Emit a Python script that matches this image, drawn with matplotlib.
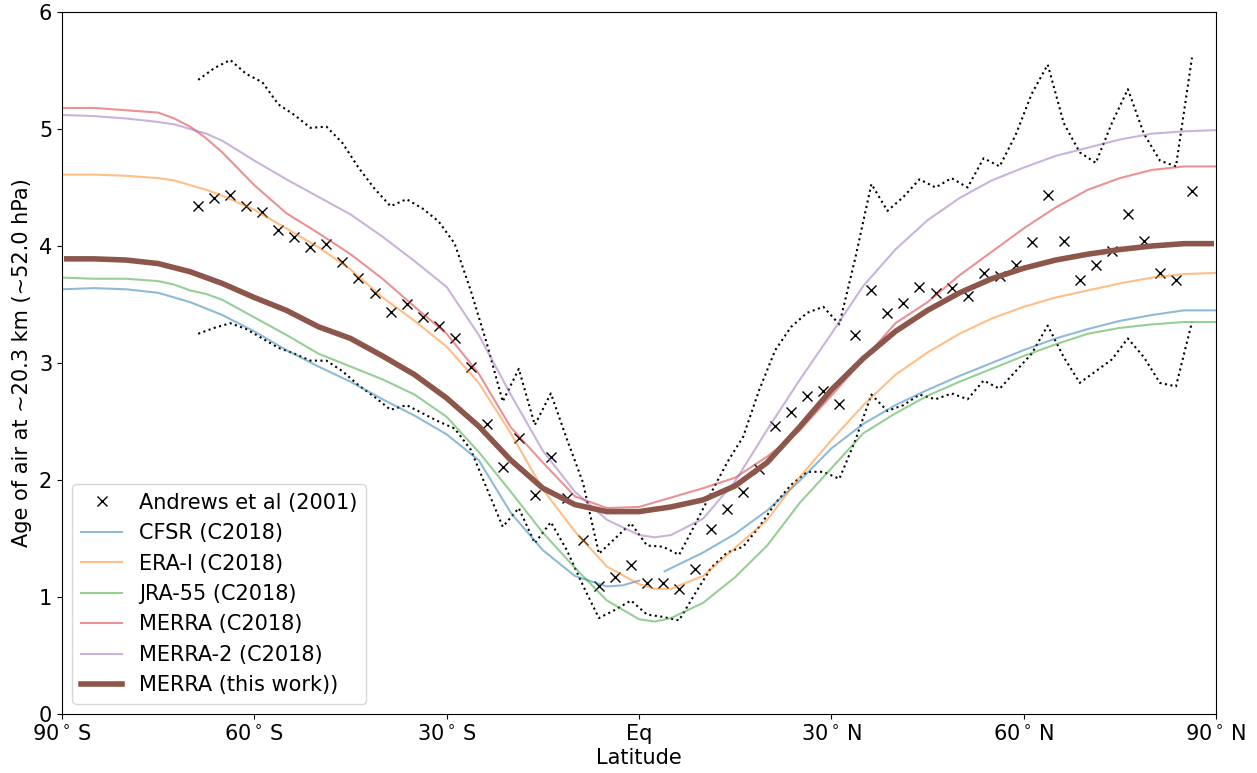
import matplotlib.pyplot as plt
import numpy as np

# Andrews et al (2001) observations
obs_lat = [-68.75, -66.25, -63.75, -61.25, -58.75, -56.25, -53.75, -51.25, -48.75, -46.25,
           -43.75, -41.25, -38.75, -36.25, -33.75, -31.25, -28.75, -26.25, -23.75, -21.25,
           -18.75, -16.25, -13.75, -11.25, -8.75, -6.25, -3.75, -1.25, 1.25, 3.75,
           6.25, 8.75, 11.25, 13.75, 16.25, 18.75, 21.25, 23.75, 26.25, 28.75,
           31.25, 33.75, 36.25, 38.75, 41.25, 43.75, 46.25, 48.75, 51.25, 53.75,
           56.25, 58.75, 61.25, 63.75, 66.25, 68.75, 71.25, 73.75, 76.25, 78.75,
           81.25, 83.75, 86.25]
obs_age = [4.34, 4.41, 4.44, 4.34, 4.29, 4.14, 4.08, 3.99, 4.02, 3.86,
           3.73, 3.60, 3.44, 3.50, 3.39, 3.32, 3.21, 2.97, 2.48, 2.11,
           2.36, 1.87, 2.20, 1.85, 1.49, 1.09, 1.17, 1.27, 1.12, 1.12,
           1.07, 1.24, 1.58, 1.75, 1.90, 2.09, 2.46, 2.58, 2.72, 2.76,
           2.65, 3.24, 3.62, 3.43, 3.51, 3.65, 3.60, 3.64, 3.57, 3.77,
           3.74, 3.84, 4.03, 4.44, 4.04, 3.71, 3.84, 3.96, 4.27, 4.04,
           3.77, 3.71, 4.47]
obs_upper = [5.42, 5.52, 5.59, 5.47, 5.40, 5.21, 5.12, 5.01, 5.02, 4.88,
             4.67, 4.49, 4.34, 4.40, 4.32, 4.21, 4.02, 3.62, 3.17, 2.67,
             2.95, 2.47, 2.74, 2.35, 1.98, 1.37, 1.50, 1.63, 1.44, 1.43,
             1.36, 1.62, 1.89, 2.15, 2.37, 2.77, 3.11, 3.31, 3.43, 3.48,
             3.33, 3.90, 4.53, 4.30, 4.42, 4.57, 4.50, 4.58, 4.50, 4.75,
             4.68, 4.95, 5.30, 5.55, 5.05, 4.80, 4.71, 5.05, 5.34, 4.96,
             4.73, 4.68, 5.61]
obs_lower = [3.25, 3.30, 3.34, 3.29, 3.21, 3.13, 3.08, 3.02, 3.02, 2.93,
             2.81, 2.71, 2.60, 2.64, 2.57, 2.50, 2.44, 2.26, 1.93, 1.60,
             1.76, 1.46, 1.64, 1.40, 1.10, 0.82, 0.89, 0.97, 0.85, 0.83,
             0.80, 1.03, 1.25, 1.38, 1.43, 1.60, 1.80, 1.96, 2.07, 2.07,
             2.01, 2.34, 2.73, 2.59, 2.64, 2.73, 2.69, 2.74, 2.69, 2.85,
             2.78, 2.93, 3.08, 3.32, 3.05, 2.83, 2.93, 3.03, 3.21, 3.05,
             2.83, 2.80, 3.35]

# Reanalyses (C2018)
lat = [-90, -85, -80, -75, -72.5, -70, -67.5, -65, -60, -55, -50, -45, -40, -35, -30, -25, -20,
       -15, -10, -5, 0, 2.5, 5, 10, 15, 20, 25, 30, 35, 40, 45, 50, 55, 60, 65, 70, 75, 80, 85, 90]
cfsr_lat = [-90, -85, -80, -75, -70, -65, -60, -55, -50, -45, -40, -35, -30, -25, -20, -15, -10, -5,
            -2.5, 0, 2, 4, 10, 15, 20, 25, 30, 35, 40, 45, 50, 55, 60, 65, 70, 75, 80, 85, 90]
cfsr = [3.63, 3.64, 3.63, 3.60, 3.52, 3.41, 3.27, 3.11, 2.97, 2.84, 2.69, 2.55, 2.39, 2.17, 1.72, 1.40,
        1.18, 1.09, 1.10, 1.14, np.nan, 1.22, 1.38, 1.54, 1.74, 1.99, 2.27, 2.48, 2.64, 2.77, 2.89, 3.00,
        3.11, 3.21, 3.29, 3.36, 3.41, 3.45, 3.45]
erai = [4.61, 4.61, 4.60, 4.58, 4.56, 4.52, 4.48, 4.43, 4.31, 4.15, 3.99, 3.80, 3.56, 3.36, 3.14, 2.83,
        2.40, 1.92, 1.56, 1.26, 1.11, 1.07, 1.07, 1.18, 1.42, 1.66, 2.02, 2.34, 2.64, 2.90, 3.09, 3.25,
        3.38, 3.48, 3.56, 3.62, 3.68, 3.73, 3.76, 3.77]
jra55 = [3.73, 3.72, 3.72, 3.70, 3.67, 3.62, 3.59, 3.54, 3.39, 3.24, 3.08, 2.97, 2.86, 2.73, 2.54, 2.24,
         1.90, 1.55, 1.25, 0.97, 0.81, 0.79, 0.82, 0.95, 1.17, 1.44, 1.80, 2.10, 2.40, 2.57, 2.72, 2.84,
         2.95, 3.06, 3.16, 3.25, 3.30, 3.33, 3.35, 3.35]
merra = [5.18, 5.18, 5.16, 5.14, 5.09, 5.02, 4.92, 4.80, 4.52, 4.28, 4.11, 3.93, 3.72, 3.48, 3.25, 2.91,
         2.45, 2.15, 1.86, 1.76, 1.77, 1.81, 1.85, 1.93, 2.02, 2.20, 2.42, 2.72, 3.03, 3.34, 3.52, 3.75,
         3.95, 4.15, 4.33, 4.48, 4.58, 4.65, 4.68, 4.68]
merra2 = [5.12, 5.11, 5.09, 5.06, 5.04, 5.00, 4.96, 4.90, 4.73, 4.57, 4.42, 4.27, 4.08, 3.87, 3.65, 3.24,
          2.73, 2.25, 1.90, 1.66, 1.53, 1.51, 1.53, 1.67, 1.99, 2.43, 2.85, 3.25, 3.66, 3.97, 4.22, 4.41,
          4.56, 4.67, 4.77, 4.84, 4.91, 4.96, 4.98, 4.99]

# MERRA (this work)
this_lat = [-89.25, -85, -80, -75, -70, -65, -60, -55, -50, -45, -40, -35, -30, -25, -20, -15, -10, -5,
            0, 5, 10, 15, 20, 25, 30, 35, 40, 45, 50, 55, 60, 65, 70, 75, 80, 85, 89.25]
this_work = [3.89, 3.89, 3.88, 3.85, 3.78, 3.68, 3.56, 3.45, 3.31, 3.21, 3.06, 2.90, 2.70, 2.46, 2.17,
             1.93, 1.79, 1.73, 1.73, 1.77, 1.83, 1.95, 2.15, 2.45, 2.77, 3.04, 3.27, 3.45, 3.60, 3.72,
             3.81, 3.88, 3.93, 3.97, 4.00, 4.02, 4.02]

xticks = [-90, -60, -30, 0, 30, 60, 90]
xticklabels = ["90$^\\circ\\,$S", "60$^\\circ\\,$S", "30$^\\circ\\,$S", "Eq",
               "30$^\\circ\\,$N", "60$^\\circ\\,$N", "90$^\\circ\\,$N"]

fig = plt.figure(figsize=(12.57, 7.73), dpi=100)
ax = fig.add_axes([0.0493, 0.0763, 0.9181, 0.9082])

ax.plot(obs_lat, obs_age, "x", color="k", markersize=7, label="Andrews et al (2001)")
ax.plot(obs_lat, obs_upper, "k:", linewidth=1.5)
ax.plot(obs_lat, obs_lower, "k:", linewidth=1.5)

ax.plot(cfsr_lat, cfsr, color="C0", alpha=0.5, linewidth=1.5, label="CFSR (C2018)")
ax.plot(lat, erai, color="C1", alpha=0.5, linewidth=1.5, label="ERA-I (C2018)")
ax.plot(lat, jra55, color="C2", alpha=0.5, linewidth=1.5, label="JRA-55 (C2018)")
ax.plot(lat, merra, color="C3", alpha=0.5, linewidth=1.5, label="MERRA (C2018)")
ax.plot(lat, merra2, color="C4", alpha=0.5, linewidth=1.5, label="MERRA-2 (C2018)")
ax.plot(this_lat, this_work, color="C5", linewidth=4, label="MERRA (this work))")

ax.set_xlim(-90, 90)
ax.set_ylim(0, 6)
ax.set_xticks(xticks)
ax.set_xticklabels(xticklabels)
ax.tick_params(labelsize=15)
ax.set_xlabel("Latitude", fontsize=15, labelpad=3)
ax.set_ylabel("Age of air at ~20.3 km (~52.0 hPa)", fontsize=15, labelpad=5)
ax.legend(loc="lower left", fontsize=15)

fig.savefig("out.png", dpi=100)
